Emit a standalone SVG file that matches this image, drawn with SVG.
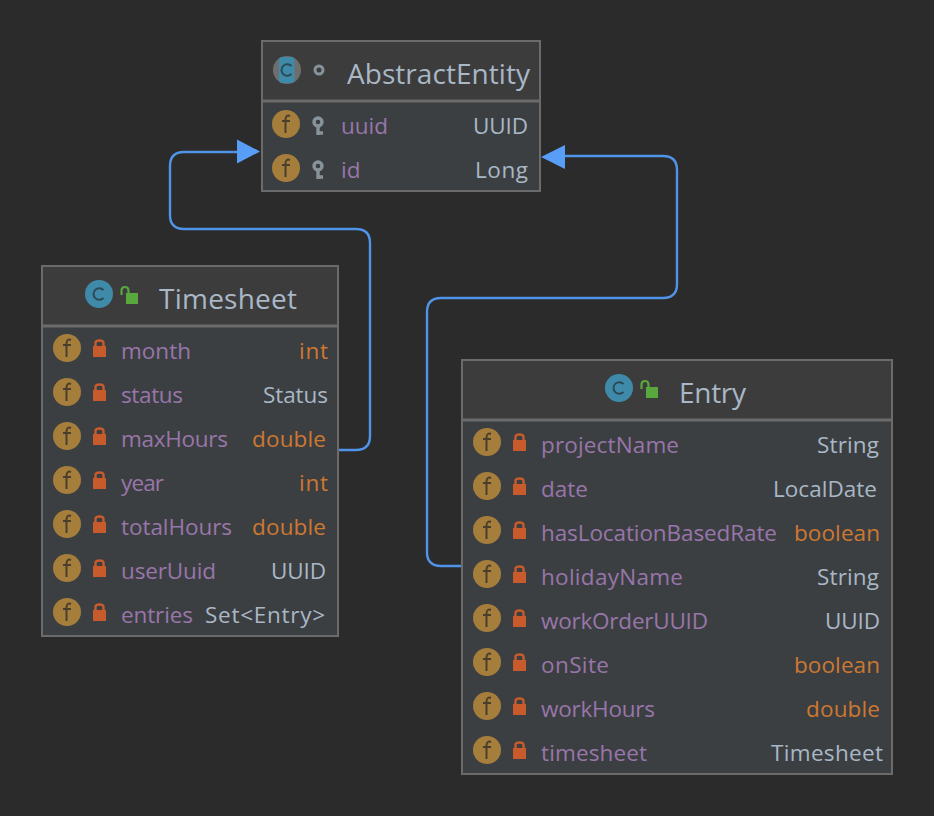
<svg xmlns="http://www.w3.org/2000/svg" width="934" height="816" viewBox="0 0 934 816">
<style>
text{font-family:"Open Sans","Noto Sans","Liberation Sans",sans-serif;font-size:22.5px}
.title{font-size:28px;fill:#a9b7c6}
.n{fill:#9876aa}
.t{fill:#a9b7c6}
.p{fill:#cc7832}
.box{fill:#3c3f41;stroke:#6b6b6b;stroke-width:2}
.hd{fill:#3c3c3c}
.sep{stroke:#6b6b6b;stroke-width:3}
.edge{fill:none;stroke:#4f94e8;stroke-width:2.4}
.head{fill:#589df6}
</style>
<defs>
<g id="f"><circle r="14" fill="#a67e3c"/><path d="M4-8Q0-9.500-.5-5V9M-4-3H4" fill="none" stroke="#4a3f2c" stroke-width="2"/></g>
<g id="lock"><rect x="-6" y="-3" width="13" height="11" fill="#c75b2b"/><path d="M-3.500-3V-6Q-3.500-8.500 .5-8.500T4.500-6V-3" fill="none" stroke="#c75b2b" stroke-width="2.400"/></g>
<g id="key"><circle cy="-3" r="4" fill="none" stroke="#87939a" stroke-width="3.400"/><path d="M0 0V10M0 8H5" fill="none" stroke="#87939a" stroke-width="3.400"/></g>
<g id="c"><circle r="14" fill="#3f8aa8"/><path d="M4.500-4A5.800 5.800 0 1 0 4.500 4" fill="none" stroke="#2c4a58" stroke-width="2"/></g>
<g id="open"><rect x="-3" y="-2" width="12" height="11" fill="#59a83e"/><path d="M-7.500 0V-4Q-7.500-8-4-8T-.5-4V-2" fill="none" stroke="#59a83e" stroke-width="2.200"/></g>
</defs>
<rect width="934" height="816" fill="#2b2b2b"/>
<g id="connectors">
<path class="edge" d="M339 450H356Q370 450 370 436V243Q370 229 356 229H184Q170 229 170 215V166Q170 152 184 152H240"/>
<path class="head" d="M260 151.500L237 139.500V163.500Z"/>
<path class="edge" d="M462 566H441Q427 566 427 552V312Q427 298 441 298H663Q677 298 677 284V170Q677 156 663 156H564"/>
<path class="head" d="M541 157L565 145V169Z"/>
</g>
<g id="AbstractEntity">
<rect class="box" x="262" y="41" width="278" height="150"/>
<rect class="hd" x="263" y="42" width="276" height="59"/>
<path class="sep" d="M263 101H539"/>
<circle cx="287" cy="70" r="14" fill="#6e6e6e"/><rect x="279" y="57" width="15.500" height="26" rx="3" fill="#3f8aa8"/>
<path d="M291.500 66A5.800 5.800 0 1 0 291.500 74" fill="none" stroke="#2c4a58" stroke-width="2"/>
<circle cx="319" cy="70" r="4" fill="none" stroke="#87939a" stroke-width="3"/>
<text class="title" x="347" y="84" textLength="183">AbstractEntity</text>
<use href="#f" x="286" y="124"/><use href="#key" x="318" y="125"/>
<text class="n" x="341" y="134" textLength="47">uuid</text><text class="t" x="473" y="134" textLength="55">UUID</text>
<use href="#f" x="286" y="168"/><use href="#key" x="318" y="169"/>
<text class="n" x="341" y="178">id</text><text class="t" x="475" y="178" textLength="53">Long</text>
</g>
<g id="Timesheet">
<rect class="box" x="42" y="266" width="296" height="370"/>
<rect class="hd" x="43" y="267" width="294" height="59"/>
<path class="sep" d="M43 326H337"/>
<use href="#c" x="99" y="294"/><use href="#open" x="129" y="295"/>
<text class="title" x="159" y="309" textLength="138">Timesheet</text>
<use href="#f" x="67" y="348"/><use href="#lock" x="99" y="349"/><text class="n" x="121" y="359" textLength="70">month</text><text class="p" x="299" y="359" textLength="29">int</text>
<use href="#f" x="67" y="392"/><use href="#lock" x="99" y="393"/><text class="n" x="121" y="403" textLength="62">status</text><text class="t" x="263" y="403" textLength="65">Status</text>
<use href="#f" x="67" y="436"/><use href="#lock" x="99" y="437"/><text class="n" x="121" y="447" textLength="107">maxHours</text><text class="p" x="252" y="447" textLength="74">double</text>
<use href="#f" x="67" y="480"/><use href="#lock" x="99" y="481"/><text class="n" x="121" y="491" textLength="43">year</text><text class="p" x="299" y="491" textLength="29">int</text>
<use href="#f" x="67" y="524"/><use href="#lock" x="99" y="525"/><text class="n" x="121" y="535" textLength="111">totalHours</text><text class="p" x="252" y="535" textLength="74">double</text>
<use href="#f" x="67" y="568"/><use href="#lock" x="99" y="569"/><text class="n" x="121" y="579" textLength="95">userUuid</text><text class="t" x="271" y="579" textLength="55">UUID</text>
<use href="#f" x="67" y="612"/><use href="#lock" x="99" y="613"/><text class="n" x="121" y="623" textLength="72">entries</text><text class="t" x="205" y="623" textLength="120">Set&lt;Entry&gt;</text>
</g>
<g id="Entry">
<rect class="box" x="462" y="360" width="430" height="414"/>
<rect class="hd" x="463" y="361" width="428" height="59"/>
<path class="sep" d="M463 420H891"/>
<use href="#c" x="619" y="388"/><use href="#open" x="649" y="389"/>
<text class="title" x="679" y="403" textLength="67">Entry</text>
<use href="#f" x="487" y="442"/><use href="#lock" x="519" y="443"/><text class="n" x="541" y="453" textLength="138">projectName</text><text class="t" x="817" y="453" textLength="62">String</text>
<use href="#f" x="487" y="486"/><use href="#lock" x="519" y="487"/><text class="n" x="541" y="497" textLength="47">date</text><text class="t" x="773" y="497" textLength="104">LocalDate</text>
<use href="#f" x="487" y="530"/><use href="#lock" x="519" y="531"/><text class="n" x="541" y="541" textLength="236">hasLocationBasedRate</text><text class="p" x="794" y="541" textLength="86">boolean</text>
<use href="#f" x="487" y="574"/><use href="#lock" x="519" y="575"/><text class="n" x="541" y="585" textLength="142">holidayName</text><text class="t" x="817" y="585" textLength="62">String</text>
<use href="#f" x="487" y="618"/><use href="#lock" x="519" y="619"/><text class="n" x="541" y="629" textLength="167">workOrderUUID</text><text class="t" x="825" y="629" textLength="55">UUID</text>
<use href="#f" x="487" y="662"/><use href="#lock" x="519" y="663"/><text class="n" x="541" y="673" textLength="68">onSite</text><text class="p" x="794" y="673" textLength="86">boolean</text>
<use href="#f" x="487" y="706"/><use href="#lock" x="519" y="707"/><text class="n" x="541" y="717" textLength="114">workHours</text><text class="p" x="806" y="717" textLength="74">double</text>
<use href="#f" x="487" y="750"/><use href="#lock" x="519" y="751"/><text class="n" x="541" y="761" textLength="106">timesheet</text><text class="t" x="771" y="761" textLength="112">Timesheet</text>
</g>
</svg>
